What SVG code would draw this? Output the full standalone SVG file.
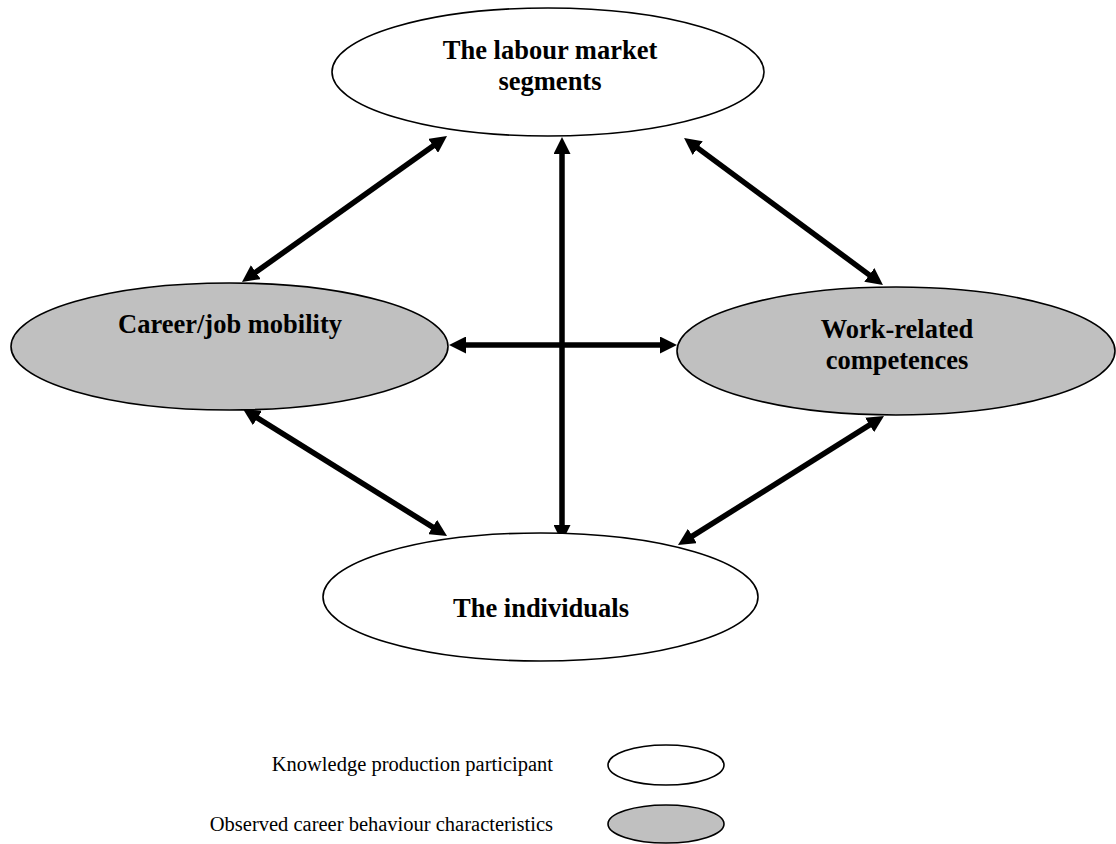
<svg xmlns="http://www.w3.org/2000/svg" width="1116" height="844" viewBox="0 0 1116 844">
<style>
.node{stroke:#000;stroke-width:1.6}
.white{fill:#fff}
.grey{fill:#c0c0c0}
.lbl{font-family:"Liberation Serif","Times New Roman",serif;font-weight:bold;font-size:26.5px;fill:#000;text-anchor:middle}
.leg{font-family:"Liberation Serif","Times New Roman",serif;font-size:20.5px;fill:#000;text-anchor:end}
.conn{stroke:#000;stroke-width:5.5;fill:none;marker-start:url(#ah);marker-end:url(#ah)}
</style>
<defs>
<marker id="ah" markerUnits="userSpaceOnUse" markerWidth="17" markerHeight="17" refX="2" refY="8.5" orient="auto-start-reverse" viewBox="0 0 17 17">
<path d="M0,0 L17,8.5 L0,17 z" fill="#000"/>
</marker>
</defs>
<rect width="1116" height="844" fill="#fff"/>
<g id="connectors">
<line class="conn" x1="464" y1="345" x2="662" y2="345"/>
<line class="conn" x1="562" y1="152" x2="562" y2="527"/>
<line class="conn" x1="254.2" y1="273.3" x2="434.8" y2="144.7"/>
<line class="conn" x1="696.1" y1="146.9" x2="870.9" y2="276.1"/>
<line class="conn" x1="255.7" y1="416.9" x2="434.3" y2="528.1"/>
<line class="conn" x1="871.3" y1="423.9" x2="690.7" y2="537.1"/>
</g>
<g id="labour-market">
<ellipse class="node white" cx="548" cy="72" rx="216" ry="64"/>
<text class="lbl" x="550" y="59">The labour market</text>
<text class="lbl" x="550" y="90">segments</text>
</g>
<g id="career-mobility">
<ellipse class="node grey" cx="229.5" cy="346.5" rx="218.5" ry="63.5"/>
<text class="lbl" x="230" y="333">Career/job mobility</text>
</g>
<g id="competences">
<ellipse class="node grey" cx="896" cy="351" rx="219" ry="64"/>
<text class="lbl" x="897" y="338">Work-related</text>
<text class="lbl" x="897" y="369">competences</text>
</g>
<g id="individuals">
<ellipse class="node white" cx="540.5" cy="597" rx="217.5" ry="64"/>
<text class="lbl" x="541" y="617">The individuals</text>
</g>
<g id="legend">
<text class="leg" x="553" y="771">Knowledge production participant</text>
<ellipse class="node white" cx="666" cy="765" rx="58" ry="20"/>
<text class="leg" x="553" y="831">Observed career behaviour characteristics</text>
<ellipse class="node grey" cx="666" cy="824" rx="58" ry="19"/>
</g>
</svg>
